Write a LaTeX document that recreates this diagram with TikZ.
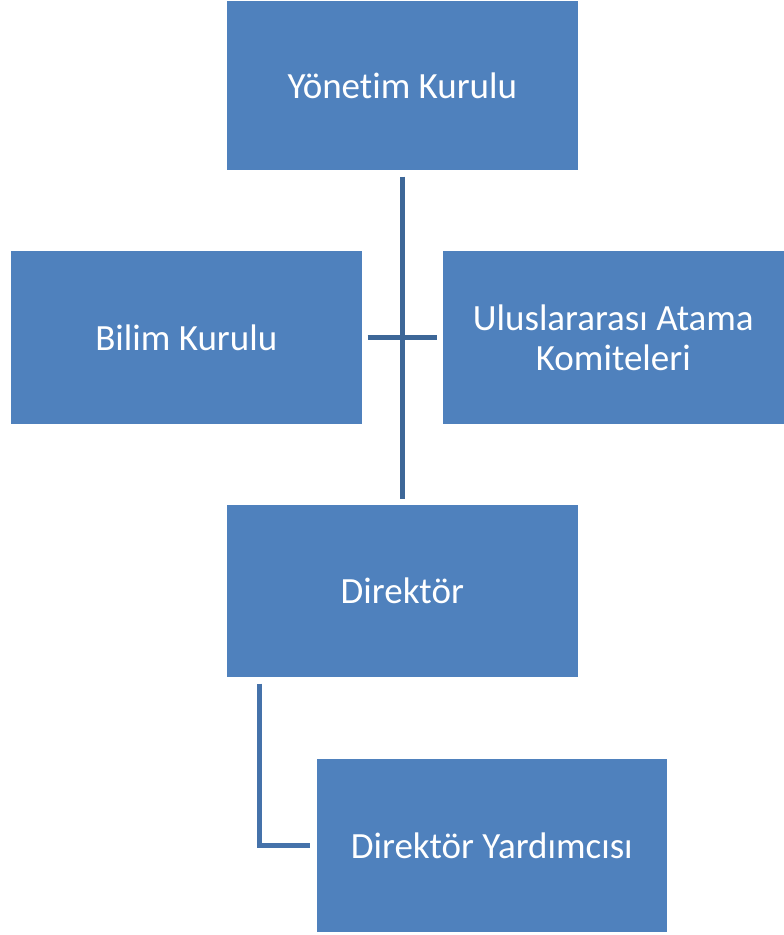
\documentclass[tikz,border=0pt]{standalone}
\usepackage{fontspec}
\setmainfont[Ligatures=NoCommon]{Carlito}
\usetikzlibrary{calc}
\definecolor{boxblue}{HTML}{4F81BD}
\definecolor{crossline}{HTML}{3D6798}
\definecolor{elbowline}{HTML}{4572AA}
\begin{document}
\begin{tikzpicture}[x=1pt,y=-1pt,
  orgbox/.style={rectangle, fill=boxblue, draw=white, line width=0.6pt, inner sep=0pt,
    text=white, font=\fontsize{37}{40}\selectfont, align=center, anchor=north west},
  crossconn/.style={draw=crossline, line width=5.5pt},
  elbowconn/.style={draw=elbowline, line width=5.5pt}]
\useasboundingbox (0,0) rectangle (784,935);
\node[orgbox, minimum width=352pt, minimum height=170pt] (yk) at (226,0) {Yönetim Kurulu};
\node[orgbox, minimum width=352pt, minimum height=174pt] (bk) at (10,250) {Bilim Kurulu};
\node[orgbox, minimum width=342pt, minimum height=174pt] (ua) at (442,250) {Uluslararası Atama\\Komiteleri};
\node[orgbox, minimum width=352pt, minimum height=173pt] (dir) at (226,504) {Direktör};
\node[orgbox, minimum width=351pt, minimum height=174pt] (dy) at (316,758) {Direktör Yardımcısı};
\draw[crossconn] ([yshift=-6]yk.south) -- ([yshift=5]dir.north);
\draw[crossconn] ([xshift=5]bk.east) -- ([xshift=-5]ua.west);
\coordinate (el) at ($(dir.south west)+(33.5,6)$);
\draw[elbowconn] (el) |- ([xshift=-6]dy.west);
\end{tikzpicture}
\end{document}
